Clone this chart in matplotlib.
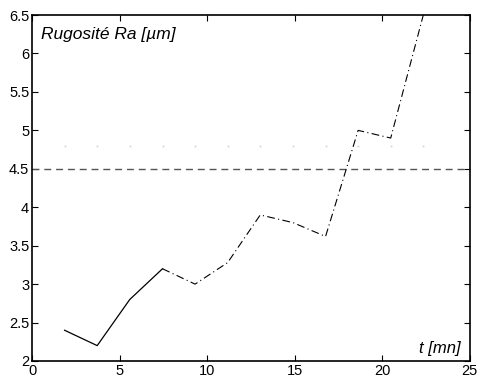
import numpy as np
import matplotlib
matplotlib.use("Agg")
import matplotlib.pyplot as plt

plt.rcParams['font.family'] = ['Liberation Sans', 'DejaVu Sans']

# mesures (pas de temps ~1.86 mn)
t_mes = [1.86, 3.72, 5.58, 7.45]
ra_mes = [2.4, 2.2, 2.8, 3.2]

t_pred = [7.45, 9.31, 11.17, 13.03, 14.9, 16.76, 18.62, 20.48, 22.34]
ra_pred = [3.2, 3.0, 3.28, 3.9, 3.8, 3.62, 5.0, 4.9, 6.5]

t_pts = [1.86, 3.72, 5.58, 7.45, 9.31, 11.17, 13.03, 14.9, 16.76, 18.62, 20.48, 22.34]
ra_ref = 4.8
ra_seuil = 4.5

fig = plt.figure(figsize=(4.78, 3.81), dpi=100)
ax = fig.add_axes([0.067, 0.0525, 0.916, 0.908])

ax.plot(t_pts, [ra_ref] * len(t_pts), linestyle='none', marker='s', markersize=1.2,
        color='#d0d0d0', markeredgewidth=0)
ax.axhline(ra_seuil, color='#555555', linestyle=(0, (5, 3.5)), linewidth=1.0)
ax.plot(t_mes, ra_mes, color='black', linewidth=0.9)
ax.plot(t_pred, ra_pred, color='black', linewidth=0.8, linestyle=(0, (7, 3, 1, 3)))

ax.set_xlim(0, 25)
ax.set_ylim(2, 6.5)
ax.set_xticks([0, 5, 10, 15, 20, 25])
ax.set_yticks([2, 2.5, 3, 3.5, 4, 4.5, 5, 5.5, 6, 6.5])
ax.set_yticklabels(['2', '2.5', '3', '3.5', '4', '4.5', '5', '5.5', '6', '6.5'])
ax.tick_params(direction='in', top=True, right=True, labelsize=10.5, length=4, width=0.8, pad=2)
for s in ax.spines.values():
    s.set_linewidth(1.2)

ax.text(0.02, 0.965, u'Rugosité Ra [µm]', transform=ax.transAxes, style='italic',
        fontsize=12.5, ha='left', va='top')
ax.text(0.978, 0.015, 't [mn]', transform=ax.transAxes, style='italic',
        fontsize=12, ha='right', va='bottom')

fig.savefig('out.png', dpi=100)
